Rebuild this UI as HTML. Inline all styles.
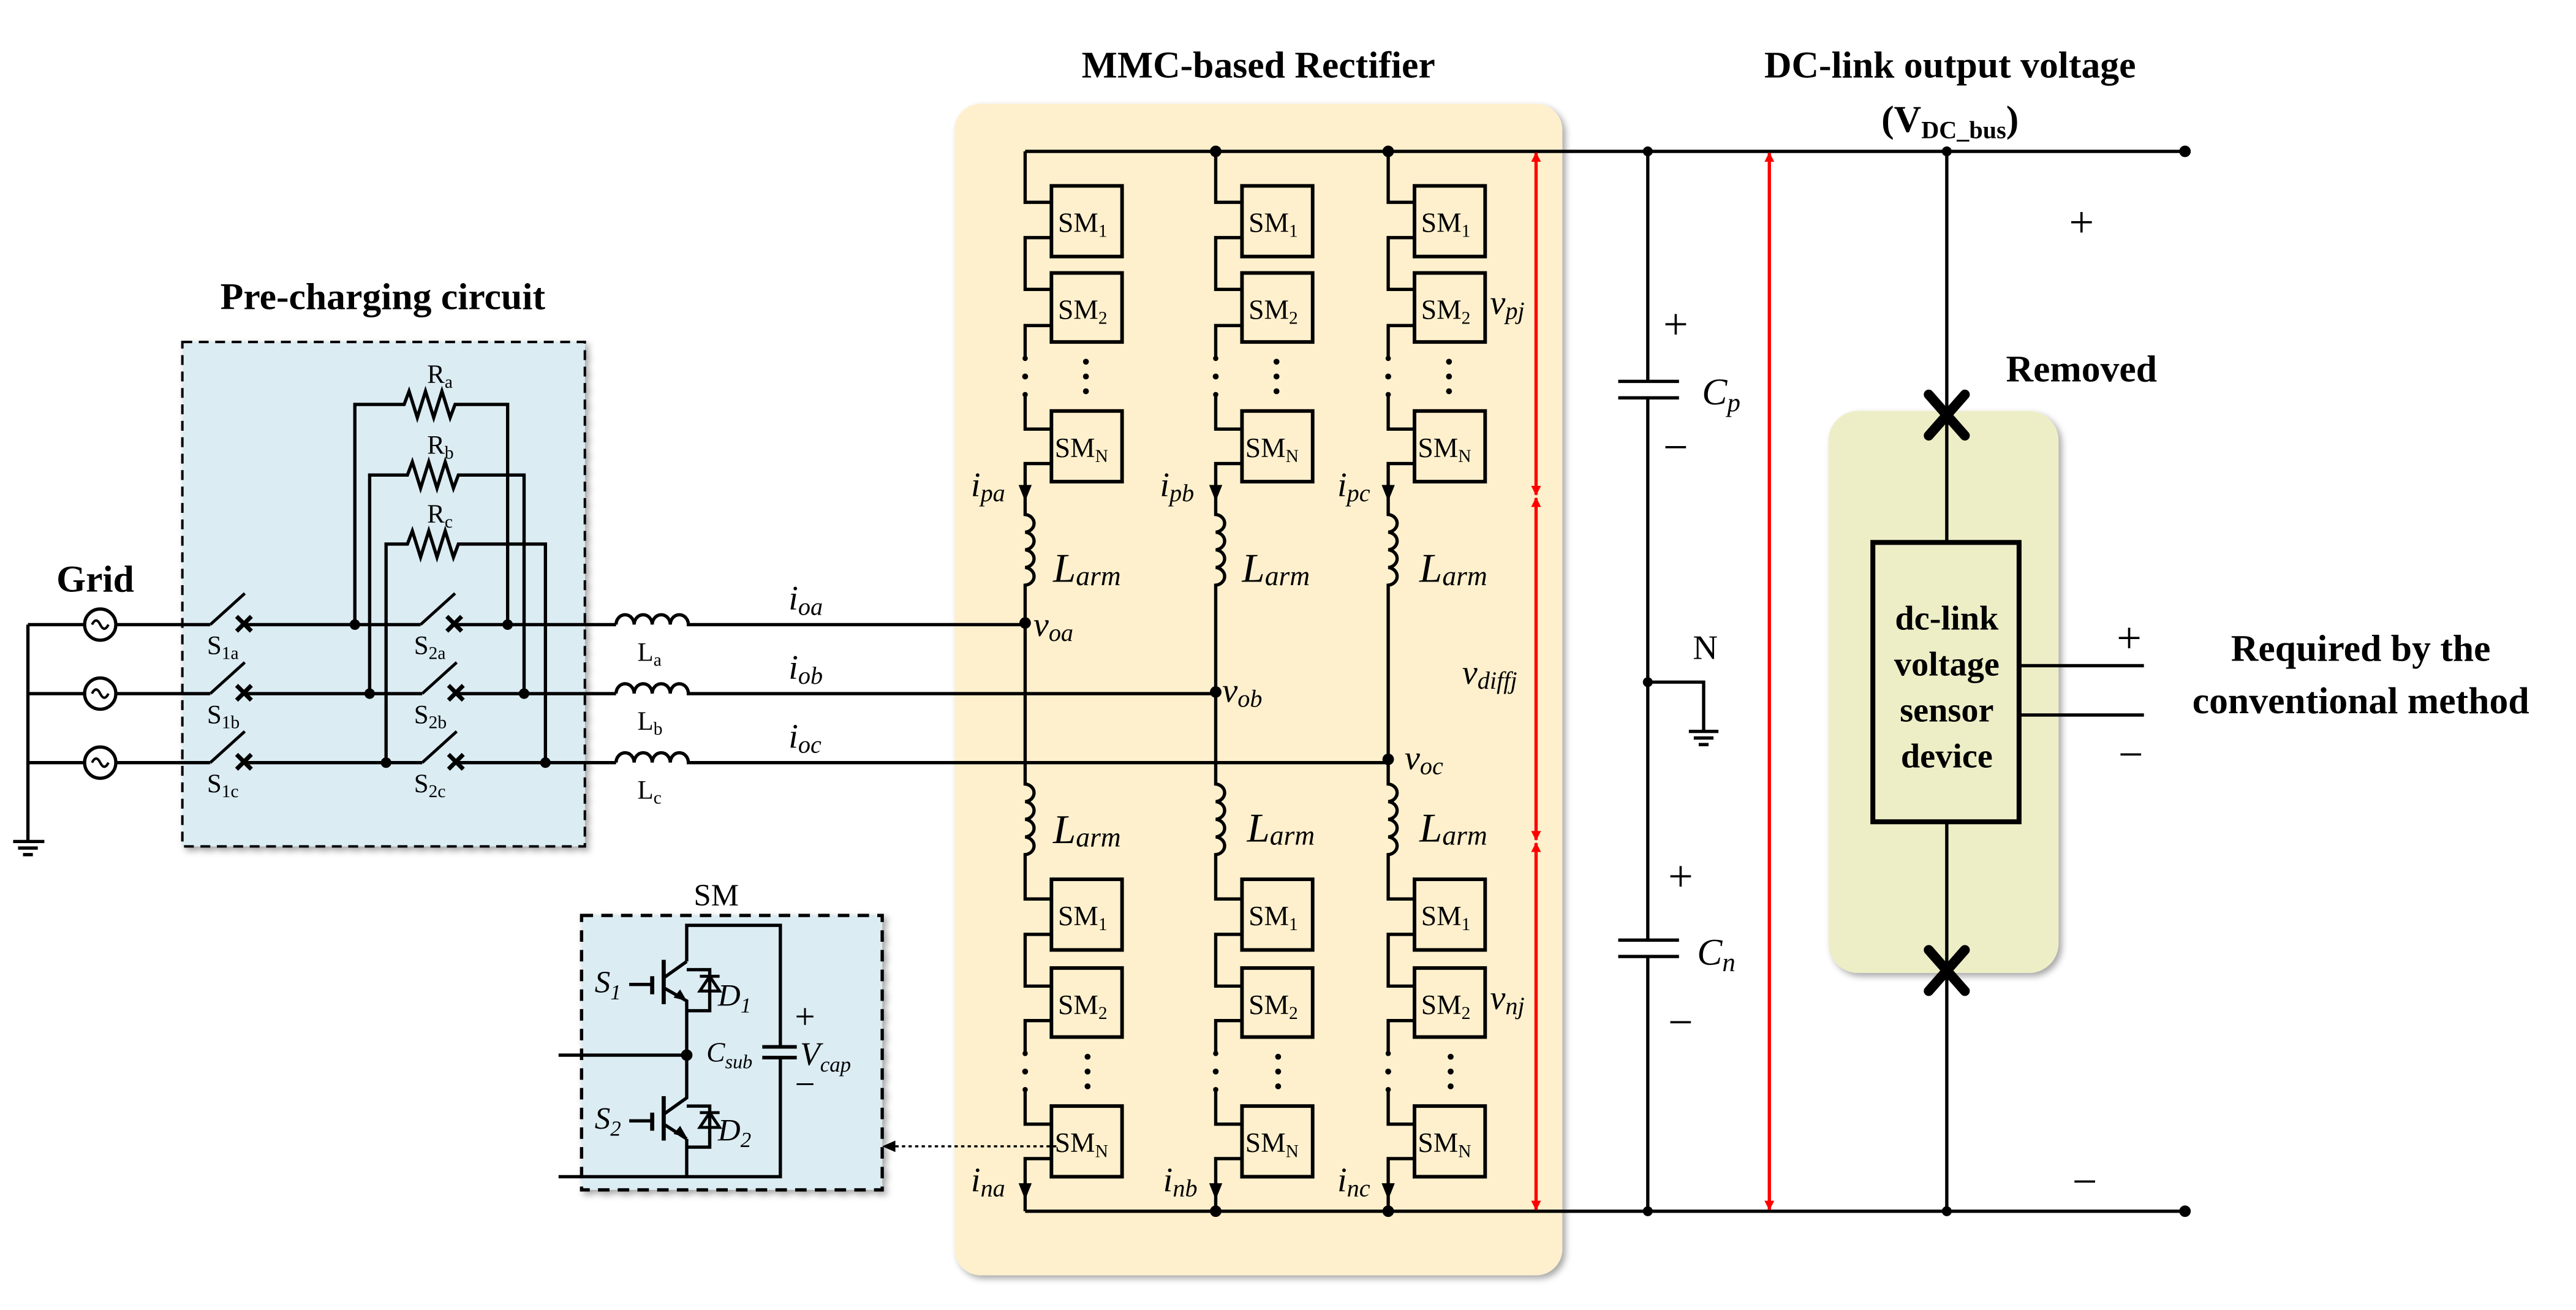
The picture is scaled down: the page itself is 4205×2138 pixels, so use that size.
<!DOCTYPE html>
<html><head><meta charset="utf-8"><style>
html,body{margin:0;padding:0;background:#fff}
svg{display:block;font-family:"Liberation Serif","DejaVu Serif",serif}
svg text{font-family:"Liberation Serif","DejaVu Serif",serif;fill:#000}
.b{font-weight:bold}
.i{font-style:italic}
</style></head><body>
<svg xmlns="http://www.w3.org/2000/svg" width="4205" height="2138" viewBox="0 0 1568 797" font-family="Liberation Serif, DejaVu Serif, serif">
<defs>
<marker id="ra" viewBox="0 0 10 10" refX="9" refY="5" markerWidth="6" markerHeight="7" orient="auto-start-reverse" markerUnits="userSpaceOnUse"><path d="M0,0 L10,5 L0,10 z" fill="#f00"/></marker>
<filter id="sh" x="-5%" y="-5%" width="112%" height="112%"><feDropShadow dx="2" dy="2" stdDeviation="2" flood-color="#000" flood-opacity="0.35"/></filter>
</defs>

<rect x="111" y="208" width="245" height="307" fill="#dbecf3" stroke="#000" stroke-width="1.5" stroke-dasharray="6,4" filter="url(#sh)"/>
<rect x="581" y="63" width="370" height="713" rx="16" fill="#fef0cd" filter="url(#sh)"/>
<rect x="1113" y="250" width="140" height="342" rx="18" fill="#edeec6" filter="url(#sh)"/>
<rect x="354" y="557" width="183" height="167" fill="#dbecf3" stroke="#000" stroke-width="2" stroke-dasharray="7,5" filter="url(#sh)"/>

<g font-family="Liberation Serif, DejaVu Serif, serif">
<text x="233" y="188" font-size="23" class="b" text-anchor="middle">Pre-charging circuit</text>
<text x="766" y="47" font-size="23" class="b" text-anchor="middle">MMC-based Rectifier</text>
<text x="1187" y="47" font-size="23" class="b" text-anchor="middle">DC-link output voltage</text>
<text x="1187" y="80" font-size="23" class="b" text-anchor="middle">(V<tspan font-size="15" dy="4">DC_bus</tspan><tspan dy="-4">)</tspan></text>
<text x="58" y="360" font-size="23" class="b" text-anchor="middle">Grid</text>
<text x="1267" y="232" font-size="23" class="b" text-anchor="middle">Removed</text>
<text x="1437" y="402" font-size="23" class="b" text-anchor="middle">Required by the</text>
<text x="1437" y="434" font-size="23" class="b" text-anchor="middle">conventional method</text>
</g>

<g stroke="#000" stroke-width="2" fill="none">
<path d="M17,380 V512 M8,512 H27 M11,516 H23 M14,520 H20"/>
<path d="M17,380 H52 M70,380 H128 M17,422 H52 M70,422 H128 M17,464 H52 M70,464 H128"/>
<circle cx="61" cy="380" r="9.5"/><circle cx="61" cy="422" r="9.5"/><circle cx="61" cy="464" r="9.5"/>
<path d="M56,380 q2.5,-5 5,0 t5,0" stroke-width="1.5"/>
<path d="M56,422 q2.5,-5 5,0 t5,0" stroke-width="1.5"/>
<path d="M56,464 q2.5,-5 5,0 t5,0" stroke-width="1.5"/>
<path d="M128,380 L149,361 M128,422 L149,403 M128,464 L149,445" stroke-width="1.8"/>
<path d="M149,380 H256 M149,422 H257 M149,464 H257"/>
<path d="M256,380 L277,361 M257,422 L278,403 M257,464 L278,445" stroke-width="1.8"/>
<path d="M277,380 H375 M278,422 H375 M278,464 H375"/>
<g stroke-width="2.6">
<path d="M144,375 l9,9 m0,-9 l-9,9 M144,417 l9,9 m0,-9 l-9,9 M144,459 l9,9 m0,-9 l-9,9"/>
<path d="M272,375 l9,9 m0,-9 l-9,9 M273,417 l9,9 m0,-9 l-9,9 M273,459 l9,9 m0,-9 l-9,9"/>
</g>
<path d="M216,380 V246 H246 l3,-8 l5,16 l5,-16 l5,16 l5,-16 l5,16 l3,-8 H309 V380"/>
<path d="M225,422 V289 H248 l3,-8 l5,16 l5,-16 l5,16 l5,-16 l5,16 l3,-8 H319 V422"/>
<path d="M235,464 V331 H248 l3,-8 l5,16 l5,-16 l5,16 l5,-16 l5,16 l3,-8 H332 V464"/>
<path d="M375,380 a5.5,6 0 0 1 11,0 a5.5,6 0 0 1 11,0 a5.5,6 0 0 1 11,0 a5.5,6 0 0 1 11,0 H624"/>
<path d="M375,422 a5.5,6 0 0 1 11,0 a5.5,6 0 0 1 11,0 a5.5,6 0 0 1 11,0 a5.5,6 0 0 1 11,0 H740"/>
<path d="M375,464 a5.5,6 0 0 1 11,0 a5.5,6 0 0 1 11,0 a5.5,6 0 0 1 11,0 a5.5,6 0 0 1 11,0 H845"/>
<path d="M624,92 H1330 M624,737 H1330"/>
<path d="M1003,92 V232 M985,232 H1022 M985,242 H1022 M1003,242 V572 M985,572 H1022 M985,582 H1022 M1003,582 V737"/>
<path d="M1003,415 H1037 V445 M1028,445 H1046 M1031,449 H1043 M1034,453 H1040"/>
<path d="M1185,92 V330 M1185,500 V737"/>
<rect x="1140" y="330" width="89" height="170" stroke-width="3"/>
<path d="M1229,405 H1305 M1229,435 H1305"/>
</g>
<g stroke="#000" stroke-width="6" stroke-linecap="round">
<path d="M1174,240 L1196,265 M1196,240 L1174,265"/>
<path d="M1174,578 L1196,603 M1196,578 L1174,603"/>
</g>

<g stroke="#000" stroke-width="2" fill="none">
<path d="M624,92 V123 H640 M640,144.5 H624 V176 H640 M640,198 H624 V218 M624,240 V261 H640 M640,282 H624 V313 a6,5.4 0 0 1 0,10.75 a6,5.4 0 0 1 0,10.75 a6,5.4 0 0 1 0,10.75 a6,5.4 0 0 1 0,10.75 V477 a6,5.4 0 0 1 0,10.75 a6,5.4 0 0 1 0,10.75 a6,5.4 0 0 1 0,10.75 a6,5.4 0 0 1 0,10.75 V547 H640 M640,568.5 H624 V600 H640 M640,621 H624 V641 M624,663 V684 H640 M640,705 H624 V737"/>
<path d="M740,92 V123 H756 M756,144.5 H740 V176 H756 M756,198 H740 V218 M740,240 V261 H756 M756,282 H740 V313 a6,5.4 0 0 1 0,10.75 a6,5.4 0 0 1 0,10.75 a6,5.4 0 0 1 0,10.75 a6,5.4 0 0 1 0,10.75 V477 a6,5.4 0 0 1 0,10.75 a6,5.4 0 0 1 0,10.75 a6,5.4 0 0 1 0,10.75 a6,5.4 0 0 1 0,10.75 V547 H756 M756,568.5 H740 V600 H756 M756,621 H740 V641 M740,663 V684 H756 M756,705 H740 V737"/>
<path d="M845,92 V123 H861 M861,144.5 H845 V176 H861 M861,198 H845 V218 M845,240 V261 H861 M861,282 H845 V313 a6,5.4 0 0 1 0,10.75 a6,5.4 0 0 1 0,10.75 a6,5.4 0 0 1 0,10.75 a6,5.4 0 0 1 0,10.75 V477 a6,5.4 0 0 1 0,10.75 a6,5.4 0 0 1 0,10.75 a6,5.4 0 0 1 0,10.75 a6,5.4 0 0 1 0,10.75 V547 H861 M861,568.5 H845 V600 H861 M861,621 H845 V641 M845,663 V684 H861 M861,705 H845 V737"/>
<g stroke-width="2.2">
<rect x="640" y="113" width="43" height="43"/><rect x="640" y="166" width="43" height="42"/><rect x="640" y="250" width="43" height="43"/>
<rect x="640" y="535" width="43" height="43"/><rect x="640" y="589" width="43" height="42"/><rect x="640" y="673" width="43" height="43"/>
<rect x="756" y="113" width="43" height="43"/><rect x="756" y="166" width="43" height="42"/><rect x="756" y="250" width="43" height="43"/>
<rect x="756" y="535" width="43" height="43"/><rect x="756" y="589" width="43" height="42"/><rect x="756" y="673" width="43" height="43"/>
<rect x="861" y="113" width="43" height="43"/><rect x="861" y="166" width="43" height="42"/><rect x="861" y="250" width="43" height="43"/>
<rect x="861" y="535" width="43" height="43"/><rect x="861" y="589" width="43" height="42"/><rect x="861" y="673" width="43" height="43"/>
</g>
</g>
<g fill="#000">
<circle cx="624" cy="229" r="1.8"/><circle cx="740" cy="229" r="1.8"/><circle cx="845" cy="229" r="1.8"/>
<circle cx="624" cy="218" r="1.6"/><circle cx="740" cy="218" r="1.6"/><circle cx="845" cy="218" r="1.6"/>
<circle cx="624" cy="240" r="1.6"/><circle cx="740" cy="240" r="1.6"/><circle cx="845" cy="240" r="1.6"/>
<circle cx="661" cy="220" r="1.8"/><circle cx="661" cy="229" r="1.8"/><circle cx="661" cy="238" r="1.8"/>
<circle cx="777" cy="220" r="1.8"/><circle cx="777" cy="229" r="1.8"/><circle cx="777" cy="238" r="1.8"/>
<circle cx="882" cy="220" r="1.8"/><circle cx="882" cy="229" r="1.8"/><circle cx="882" cy="238" r="1.8"/>
<circle cx="624" cy="652" r="1.8"/><circle cx="740" cy="652" r="1.8"/><circle cx="845" cy="652" r="1.8"/>
<circle cx="624" cy="641" r="1.6"/><circle cx="740" cy="641" r="1.6"/><circle cx="845" cy="641" r="1.6"/>
<circle cx="624" cy="663" r="1.6"/><circle cx="740" cy="663" r="1.6"/><circle cx="845" cy="663" r="1.6"/>
<circle cx="662" cy="643" r="1.8"/><circle cx="662" cy="652" r="1.8"/><circle cx="662" cy="661" r="1.8"/>
<circle cx="778" cy="643" r="1.8"/><circle cx="778" cy="652" r="1.8"/><circle cx="778" cy="661" r="1.8"/>
<circle cx="883" cy="643" r="1.8"/><circle cx="883" cy="652" r="1.8"/><circle cx="883" cy="661" r="1.8"/>
<path d="M620,295 L628,295 L624,305 z M736,295 L744,295 L740,305 z M841,295 L849,295 L845,305 z"/>
<path d="M620,720 L628,720 L624,730 z M736,720 L744,720 L740,730 z M841,720 L849,720 L845,730 z"/>
<circle cx="740" cy="92" r="3.5"/><circle cx="845" cy="92" r="3.5"/><circle cx="1003" cy="92" r="3"/><circle cx="1185" cy="92" r="3"/><circle cx="1330" cy="92" r="3.5"/>
<circle cx="740" cy="737" r="3.5"/><circle cx="845" cy="737" r="3.5"/><circle cx="1003" cy="737" r="3"/><circle cx="1185" cy="737" r="3"/><circle cx="1330" cy="737" r="3.5"/>
<circle cx="624" cy="379" r="3.5"/><circle cx="740" cy="421" r="3.5"/><circle cx="845" cy="462" r="3.5"/>
<circle cx="1003" cy="415" r="3"/>
<circle cx="216" cy="380" r="3.2"/><circle cx="309" cy="380" r="3.2"/>
<circle cx="225" cy="422" r="3.2"/><circle cx="319" cy="422" r="3.2"/>
<circle cx="235" cy="464" r="3.2"/><circle cx="332" cy="464" r="3.2"/>
</g>

<g stroke="#f00" stroke-width="2" marker-start="url(#ra)" marker-end="url(#ra)">
<line x1="935" y1="93" x2="935" y2="301"/>
<line x1="935" y1="303" x2="935" y2="511"/>
<line x1="935" y1="513" x2="935" y2="736"/>
<line x1="1077" y1="93" x2="1077" y2="736"/>
</g>

<g stroke="#000" stroke-width="2" fill="none">
<path d="M418,585 V563 H475 V637 M475,644 V716 H418 V693"/>
<path d="M464,637 H485 M464,643.5 H485" stroke-width="2.2"/>
<path d="M418,585 L404,595 M404,601 L418,609 V668 L404,678 M404,684 L418,693"/>
<path d="M404,584 V611 M404,667 V694" stroke-width="2.5"/>
<path d="M397,594 V605 M397,677 V688" stroke-width="2.5"/>
<path d="M383,599 H397 M383,682 H397"/>
<path d="M418,590 H432 V615 H418 M418,673 H432 V698 H418"/>
<path d="M426,603 L438,603 L432,594 z M426,686 L438,686 L432,677 z M426,594 H438 M426,677 H438" stroke-width="1.8"/>
<path d="M340,642 H418 M340,716 H418"/>
<path d="M643,697.5 H543" stroke-width="1.3" stroke-dasharray="2,2"/>
</g>
<g fill="#000">
<circle cx="418" cy="642" r="3.5"/>
<path d="M414,602 L418,609 L410,607 z M414,685 L418,692 L410,690 z"/>
<path d="M537,697.5 L545,694 L545,701 z"/>
</g>
<g font-family="Liberation Serif, DejaVu Serif, serif">
<text x="436" y="551" font-size="19" text-anchor="middle">SM</text>
<text x="362" y="604" font-size="19" class="i">S<tspan font-size="13" dy="4">1</tspan></text>
<text x="362" y="687" font-size="19" class="i">S<tspan font-size="13" dy="4">2</tspan></text>
<text x="437" y="612" font-size="19" class="i">D<tspan font-size="13" dy="4">1</tspan></text>
<text x="437" y="694" font-size="19" class="i">D<tspan font-size="13" dy="4">2</tspan></text>
<text x="430" y="646" font-size="17" class="i">C<tspan font-size="12" dy="4">sub</tspan></text>
<text x="487" y="648" font-size="20" class="i">V<tspan font-size="13" dy="4">cap</tspan></text>
<text x="490" y="626" font-size="22" text-anchor="middle">+</text>
<text x="490" y="667" font-size="22" text-anchor="middle">−</text>

<g font-size="16">
<text x="126" y="398">S<tspan font-size="11" dy="3">1a</tspan></text>
<text x="126" y="440">S<tspan font-size="11" dy="3">1b</tspan></text>
<text x="126" y="482">S<tspan font-size="11" dy="3">1c</tspan></text>
<text x="252" y="398">S<tspan font-size="11" dy="3">2a</tspan></text>
<text x="252" y="440">S<tspan font-size="11" dy="3">2b</tspan></text>
<text x="252" y="482">S<tspan font-size="11" dy="3">2c</tspan></text>
<text x="260" y="233">R<tspan font-size="11" dy="3">a</tspan></text>
<text x="260" y="276">R<tspan font-size="11" dy="3">b</tspan></text>
<text x="260" y="318">R<tspan font-size="11" dy="3">c</tspan></text>
<text x="388" y="402">L<tspan font-size="11" dy="3">a</tspan></text>
<text x="388" y="444">L<tspan font-size="11" dy="3">b</tspan></text>
<text x="388" y="486">L<tspan font-size="11" dy="3">c</tspan></text>
</g>
<g font-size="21" class="i">
<text x="480" y="371">i<tspan font-size="15" dy="3">oa</tspan></text>
<text x="480" y="413">i<tspan font-size="15" dy="3">ob</tspan></text>
<text x="480" y="455">i<tspan font-size="15" dy="3">oc</tspan></text>
<text x="591" y="302">i<tspan font-size="15" dy="3">pa</tspan></text>
<text x="706" y="302">i<tspan font-size="15" dy="3">pb</tspan></text>
<text x="814" y="302">i<tspan font-size="15" dy="3">pc</tspan></text>
<text x="591" y="725">i<tspan font-size="15" dy="3">na</tspan></text>
<text x="708" y="725">i<tspan font-size="15" dy="3">nb</tspan></text>
<text x="814" y="725">i<tspan font-size="15" dy="3">nc</tspan></text>
<text x="629" y="387">v<tspan font-size="15" dy="3">oa</tspan></text>
<text x="744" y="427">v<tspan font-size="15" dy="3">ob</tspan></text>
<text x="855" y="468">v<tspan font-size="15" dy="3">oc</tspan></text>
<text x="907" y="191">v<tspan font-size="15" dy="3">pj</tspan></text>
<text x="890" y="416">v<tspan font-size="15" dy="3">diffj</tspan></text>
<text x="907" y="614">v<tspan font-size="15" dy="3">nj</tspan></text>
<text x="641" y="354" font-size="25">L<tspan font-size="17" dy="2">arm</tspan></text>
<text x="756" y="354" font-size="25">L<tspan font-size="17" dy="2">arm</tspan></text>
<text x="864" y="354" font-size="25">L<tspan font-size="17" dy="2">arm</tspan></text>
<text x="641" y="513" font-size="25">L<tspan font-size="17" dy="2">arm</tspan></text>
<text x="759" y="512" font-size="25">L<tspan font-size="17" dy="2">arm</tspan></text>
<text x="864" y="512" font-size="25">L<tspan font-size="17" dy="2">arm</tspan></text>
<text x="1036" y="246" font-size="23">C<tspan font-size="16" dy="4">p</tspan></text>
<text x="1033" y="587" font-size="23">C<tspan font-size="16" dy="4">n</tspan></text>
</g>
<g font-size="17">
<text x="644" y="141">SM<tspan font-size="11" dy="3">1</tspan></text>
<text x="644" y="194">SM<tspan font-size="11" dy="3">2</tspan></text>
<text x="642" y="278">SM<tspan font-size="11" dy="3">N</tspan></text>
<text x="644" y="563">SM<tspan font-size="11" dy="3">1</tspan></text>
<text x="644" y="617">SM<tspan font-size="11" dy="3">2</tspan></text>
<text x="642" y="701">SM<tspan font-size="11" dy="3">N</tspan></text>
<text x="760" y="141">SM<tspan font-size="11" dy="3">1</tspan></text>
<text x="760" y="194">SM<tspan font-size="11" dy="3">2</tspan></text>
<text x="758" y="278">SM<tspan font-size="11" dy="3">N</tspan></text>
<text x="760" y="563">SM<tspan font-size="11" dy="3">1</tspan></text>
<text x="760" y="617">SM<tspan font-size="11" dy="3">2</tspan></text>
<text x="758" y="701">SM<tspan font-size="11" dy="3">N</tspan></text>
<text x="865" y="141">SM<tspan font-size="11" dy="3">1</tspan></text>
<text x="865" y="194">SM<tspan font-size="11" dy="3">2</tspan></text>
<text x="863" y="278">SM<tspan font-size="11" dy="3">N</tspan></text>
<text x="865" y="563">SM<tspan font-size="11" dy="3">1</tspan></text>
<text x="865" y="617">SM<tspan font-size="11" dy="3">2</tspan></text>
<text x="863" y="701">SM<tspan font-size="11" dy="3">N</tspan></text>
</g>
<g font-size="27" text-anchor="middle">
<text x="1020" y="206">+</text>
<text x="1020" y="281">−</text>
<text x="1023" y="542">+</text>
<text x="1023" y="631">−</text>
<text x="1267" y="144">+</text>
<text x="1269" y="728">−</text>
<text x="1296" y="397">+</text>
<text x="1297" y="468">−</text>
</g>
<text x="1038" y="401" font-size="21" text-anchor="middle">N</text>
<g font-size="21" class="b" text-anchor="middle">
<text x="1185" y="383">dc-link</text>
<text x="1185" y="411">voltage</text>
<text x="1185" y="439">sensor</text>
<text x="1185" y="467">device</text>
</g>
</g>
</svg>
</body></html>
